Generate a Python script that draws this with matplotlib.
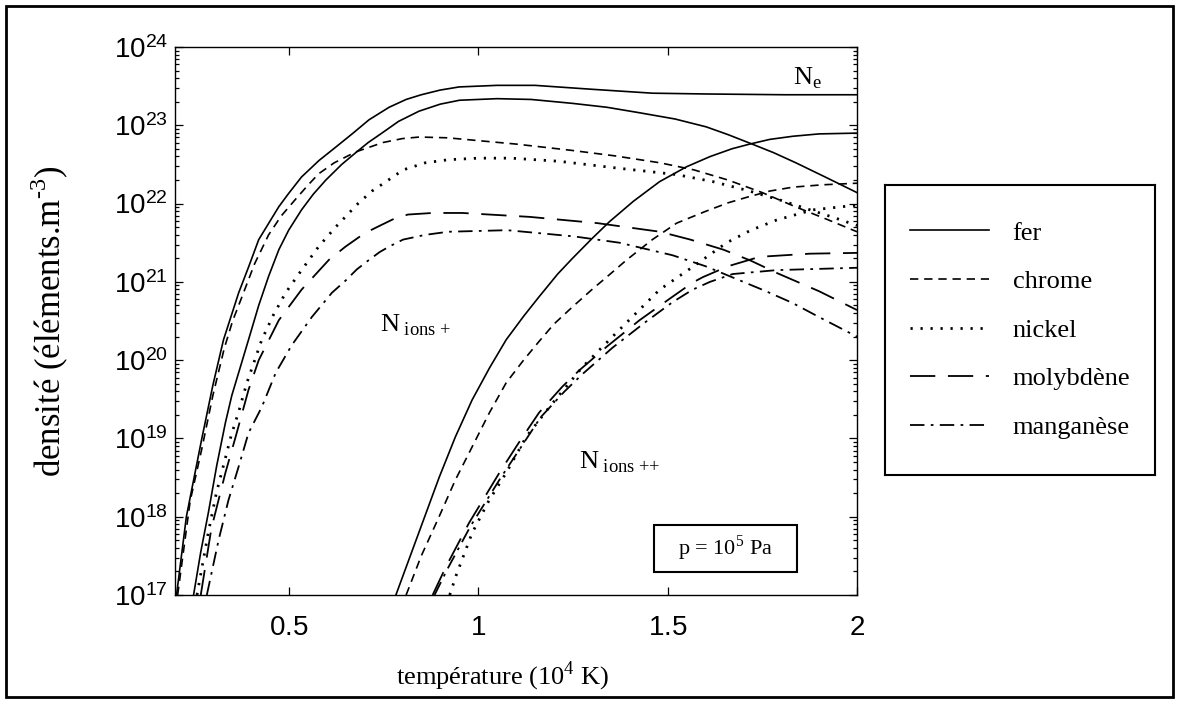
import matplotlib
matplotlib.use("Agg")
import matplotlib.pyplot as plt
from matplotlib.patches import Rectangle
from matplotlib.ticker import LogLocator, NullFormatter, FixedLocator
import numpy as np

plt.rcParams['font.family'] = ['Liberation Serif', 'DejaVu Serif']
plt.rcParams['mathtext.fontset'] = 'custom'
plt.rcParams['mathtext.rm'] = 'Liberation Serif'
plt.rcParams['mathtext.sf'] = 'Liberation Sans'

# temperature in 10^4 K, density as log10(elements / m^3)
# electrons
t_ne = [0.204, 0.23, 0.27, 0.3, 0.328, 0.368, 0.395, 0.421, 0.45, 0.474, 0.5, 0.534, 0.58, 0.624, 0.67,
        0.712, 0.765, 0.81, 0.85, 0.9, 0.95, 1.05, 1.15, 1.3, 1.46, 1.6, 1.81, 2.0]
n_ne = [17.0, 18.0, 18.98, 19.68, 20.26, 20.86, 21.2, 21.54, 21.77, 21.96, 22.13, 22.34, 22.55, 22.72, 22.9,
        23.07, 23.23, 23.33, 23.39, 23.45, 23.49, 23.51, 23.51, 23.46, 23.41, 23.4, 23.39, 23.39]

# singly charged ions
t_fe1 = [0.249, 0.268, 0.288, 0.31, 0.333, 0.35, 0.368, 0.394, 0.421, 0.447, 0.474, 0.5, 0.534, 0.565,
         0.598, 0.64, 0.677, 0.71, 0.746, 0.79, 0.844, 0.9, 0.951, 1.05, 1.14, 1.249, 1.34, 1.426, 1.52,
         1.602, 1.66, 1.718, 1.78, 1.839, 1.92, 2.0]
n_fe1 = [17.0, 17.55, 18.05, 18.65, 19.2, 19.55, 19.84, 20.26, 20.7, 21.07, 21.41, 21.66, 21.92, 22.12,
         22.3, 22.5, 22.65, 22.78, 22.9, 23.05, 23.18, 23.27, 23.32, 23.34, 23.33, 23.28, 23.23, 23.16, 23.08,
         22.98, 22.88, 22.77, 22.65, 22.52, 22.33, 22.14]

t_cr1 = [0.207, 0.24, 0.27, 0.3, 0.33, 0.352, 0.376, 0.41, 0.447, 0.48, 0.519, 0.55, 0.579, 0.62, 0.677,
         0.749, 0.8, 0.845, 0.92, 0.987, 1.1, 1.246, 1.36, 1.481, 1.57, 1.66, 1.75, 1.837, 1.92, 2.0]
n_cr1 = [17.0, 18.2, 18.85, 19.55, 20.15, 20.5, 20.8, 21.23, 21.6, 21.84, 22.06, 22.23, 22.38, 22.52, 22.66,
         22.78, 22.83, 22.85, 22.84, 22.81, 22.76, 22.68, 22.61, 22.52, 22.43, 22.3, 22.14, 21.96, 21.8, 21.64]

t_ni1 = [0.258, 0.288, 0.309, 0.333, 0.349, 0.368, 0.389, 0.429, 0.46, 0.492, 0.534, 0.579, 0.624, 0.683,
         0.72, 0.757, 0.802, 0.86, 0.921, 1.0, 1.088, 1.214, 1.373, 1.45, 1.524, 1.62, 1.709, 1.8, 1.876,
         1.94, 2.0]
n_ni1 = [17.0, 17.8, 18.3, 18.75, 19.05, 19.34, 19.7, 20.26, 20.58, 20.86, 21.15, 21.45, 21.7, 22.0,
         22.16, 22.28, 22.43, 22.52, 22.56, 22.58, 22.58, 22.54, 22.45, 22.41, 22.37, 22.28, 22.17, 22.04, 21.92,
         21.82, 21.72]

t_mo1 = [0.268, 0.296, 0.333, 0.36, 0.394, 0.421, 0.474, 0.534, 0.606, 0.65, 0.7, 0.746, 0.78, 0.815, 0.88,
         0.958, 1.136, 1.315, 1.48, 1.56, 1.648, 1.72, 1.79, 1.9, 2.0]
n_mo1 = [17.0, 17.85, 18.56, 19.02, 19.62, 20.0, 20.51, 20.9, 21.28, 21.45, 21.62, 21.73, 21.81, 21.86, 21.88,
         21.88, 21.83, 21.75, 21.64, 21.54, 21.41, 21.27, 21.11, 20.88, 20.64]

t_mn1 = [0.284, 0.315, 0.341, 0.368, 0.394, 0.429, 0.466, 0.508, 0.561, 0.614, 0.651, 0.68, 0.712, 0.74,
         0.765, 0.802, 0.86, 0.921, 1.077, 1.254, 1.373, 1.513, 1.6, 1.69, 1.76, 1.83, 1.9, 2.0]
n_mn1 = [17.0, 17.7, 18.21, 18.64, 19.07, 19.4, 19.84, 20.19, 20.55, 20.86, 21.02, 21.16, 21.28, 21.38,
         21.45, 21.54, 21.6, 21.64, 21.66, 21.58, 21.5, 21.34, 21.2, 21.02, 20.88, 20.73, 20.55, 20.3]

# doubly charged ions
t_fe2 = [0.783, 0.84, 0.897, 0.94, 0.984, 1.03, 1.074, 1.12, 1.161, 1.21, 1.249, 1.3, 1.347, 1.41, 1.479,
         1.55, 1.612, 1.67, 1.717, 1.77, 1.831, 1.9, 2.0]
n_fe2 = [17.0, 17.75, 18.5, 19.02, 19.49, 19.9, 20.26, 20.56, 20.81, 21.1, 21.3, 21.55, 21.77, 22.03, 22.28,
         22.47, 22.6, 22.7, 22.76, 22.82, 22.86, 22.89, 22.9]

t_cr2 = [0.81, 0.85, 0.897, 0.94, 0.984, 1.03, 1.074, 1.12, 1.161, 1.2, 1.249, 1.3, 1.339, 1.392, 1.46,
         1.524, 1.6, 1.66, 1.709, 1.77, 1.831, 1.91, 2.0]
n_cr2 = [17.0, 17.5, 18.0, 18.47, 18.89, 19.33, 19.71, 20.0, 20.24, 20.46, 20.68, 20.9, 21.06, 21.28, 21.54,
         21.75, 21.9, 22.01, 22.08, 22.16, 22.21, 22.24, 22.26]

t_ni2 = [0.925, 0.942, 0.984, 1.029, 1.074, 1.127, 1.188, 1.275, 1.365, 1.479, 1.566, 1.656, 1.72, 1.788,
         1.884, 2.0]
n_ni2 = [17.0, 17.25, 17.79, 18.21, 18.56, 19.02, 19.4, 19.91, 20.35, 20.9, 21.19, 21.5, 21.66, 21.79,
         21.92, 21.98]

t_mo2 = [0.88, 0.915, 0.976, 1.056, 1.108, 1.161, 1.222, 1.267, 1.339, 1.426, 1.513, 1.566, 1.593, 1.66,
         1.743, 1.876, 2.0]
n_mo2 = [17.0, 17.36, 17.92, 18.56, 18.95, 19.33, 19.66, 19.87, 20.17, 20.51, 20.81, 20.99, 21.06, 21.2,
         21.32, 21.36, 21.37]

t_mn2 = [0.885, 0.92, 0.98, 1.06, 1.112, 1.165, 1.228, 1.275, 1.355, 1.44, 1.513, 1.566, 1.612, 1.672,
         1.788, 2.0]
n_mn2 = [17.0, 17.34, 17.88, 18.5, 18.88, 19.27, 19.6, 19.82, 20.16, 20.48, 20.74, 20.9, 21.0, 21.1,
         21.15, 21.18]

elements = ['fer', 'chrome', 'nickel', 'molybdène', 'manganèse']

# line styles (solid, dashed, dotted, long dash, dash-dot)
styles = {
    'fer': dict(ls='-', lw=1.2),
    'chrome': dict(ls=(0, (5, 3.5)), lw=1.2),
    'nickel': dict(ls=(0, (0.8, 2.8)), lw=2.0),
    'molybdène': dict(ls=(0, (14, 7)), lw=1.3),
    'manganèse': dict(ls=(0, (8, 3.5, 1.5, 3.5)), lw=1.3),
}

ions1 = {'fer': (t_fe1, n_fe1), 'chrome': (t_cr1, n_cr1), 'nickel': (t_ni1, n_ni1),
         'molybdène': (t_mo1, n_mo1), 'manganèse': (t_mn1, n_mn1)}
ions2 = {'fer': (t_fe2, n_fe2), 'chrome': (t_cr2, n_cr2), 'nickel': (t_ni2, n_ni2),
         'molybdène': (t_mo2, n_mo2), 'manganèse': (t_mn2, n_mn2)}

fig = plt.figure(figsize=(11.79, 7.03), dpi=100)
W, H = 1179, 703
ax = fig.add_axes([175 / W, 1 - 595 / H, (857 - 175) / W, (595 - 47) / H])

ax.plot(t_ne, 10.0 ** np.array(n_ne), color='black', lw=1.2)

handles = []
for el in elements:
    t, n = ions1[el]
    h, = ax.plot(t, 10.0 ** np.array(n), color='black', label=el, **styles[el])
    handles.append(h)
    t, n = ions2[el]
    ax.plot(t, 10.0 ** np.array(n), color='black', **styles[el])

ax.set_yscale('log')
ax.set_xlim(0.2, 2.0)
ax.set_ylim(1e17, 1e24)

ax.xaxis.set_major_locator(FixedLocator([0.5, 1.0, 1.5, 2.0]))
ax.set_xticklabels([r'$\mathsf{0.5}$', r'$\mathsf{1}$', r'$\mathsf{1.5}$', r'$\mathsf{2}$'])
ax.yaxis.set_major_locator(FixedLocator([10.0 ** k for k in range(17, 25)]))
ax.set_yticklabels([r'$\mathsf{10^{%d}}$' % k for k in range(17, 25)])
ax.yaxis.set_minor_locator(LogLocator(base=10, subs=np.arange(2, 10), numticks=20))
ax.yaxis.set_minor_formatter(NullFormatter())

ax.tick_params(which='both', direction='in', top=True, right=True, width=0.9)
ax.tick_params(which='major', length=6)
ax.tick_params(which='minor', length=3)
ax.tick_params(axis='x', labelsize=20, pad=15)
ax.tick_params(axis='y', labelsize=20, pad=5)
for s in ax.spines.values():
    s.set_linewidth(1.0)

ax.set_xlabel(r'température (10$^{4}$ K)', fontsize=19)
ax.xaxis.set_label_coords(0.48, -0.118)
ax.set_ylabel(r'densité (éléments.m$^{\text{-3}}$)', fontsize=25)
ax.yaxis.set_label_coords(-0.152, 0.5)

# annotations
ax.text(1.868, 10 ** 23.6, r'N$_{\rm e}$', fontsize=19, ha='center', va='center')
ax.text(0.74, 10 ** 20.45, r'N$_{\text{ ions +}}$', fontsize=19, ha='left', va='center')
ax.text(1.265, 10 ** 18.7, r'N$_{\text{ ions ++}}$', fontsize=19, ha='left', va='center')

ax.add_patch(Rectangle((0.702, 0.042), 0.2105, 0.0858, transform=ax.transAxes,
                       fill=False, lw=1.5, ec='black'))
ax.text(0.807, 0.085, r'p = 10$^{5}$ Pa', transform=ax.transAxes, fontsize=16,
        ha='center', va='center')

# legend box
ax_leg = fig.add_axes([885 / W, 1 - 475 / H, 270 / W, 290 / H])
ax_leg.set_xticks([])
ax_leg.set_yticks([])
for s in ax_leg.spines.values():
    s.set_linewidth(1.5)
ax_leg.legend(handles=handles, loc='center', frameon=False, fontsize=19,
              handlelength=3.0, handletextpad=0.9, labelspacing=0.95)

# outer frame
fig.patches.append(Rectangle((6 / W, 6 / H), 1167 / W, 691 / H, transform=fig.transFigure,
                             fill=False, lw=2.0, ec='black'))

fig.savefig('out.png', dpi=100)
